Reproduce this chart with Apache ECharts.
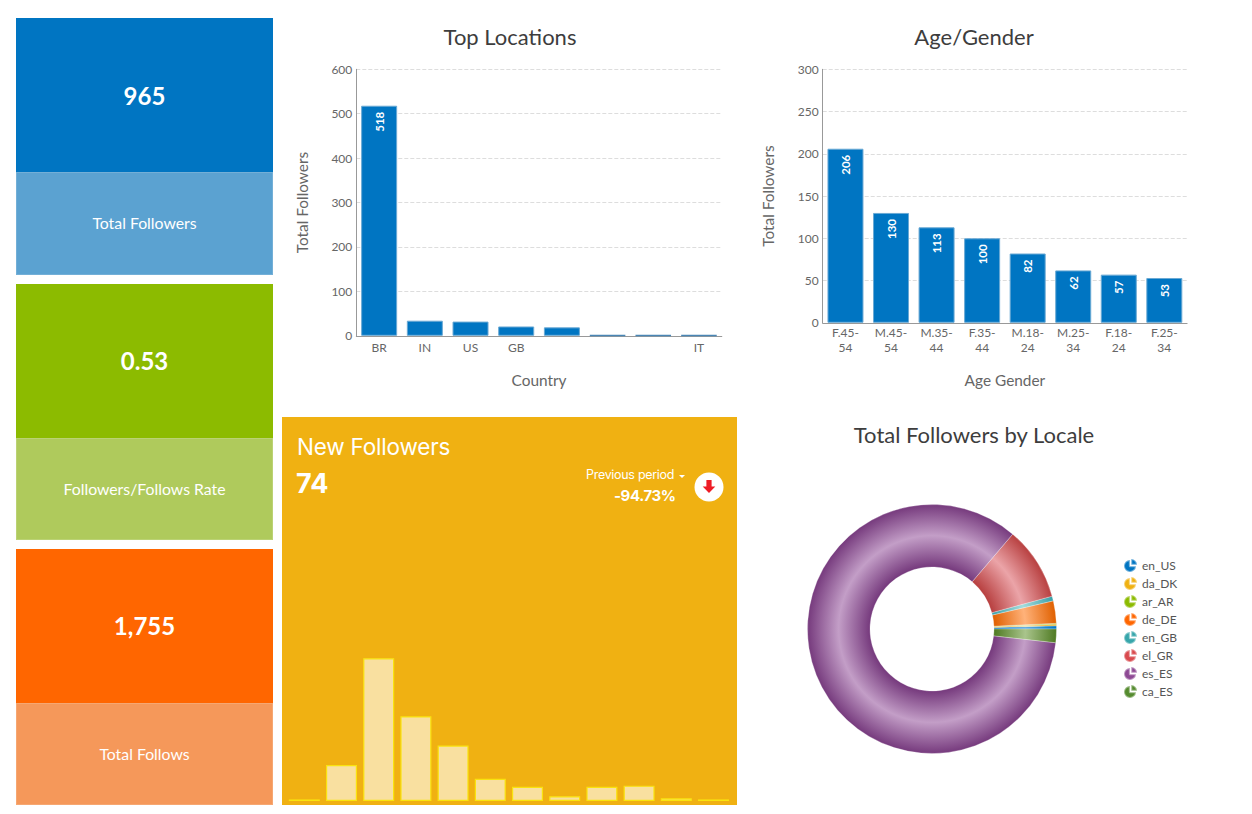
<!DOCTYPE html>
<html><head><meta charset="utf-8">
<script src="https://cdn.jsdelivr.net/npm/echarts@6/dist/echarts.min.js"></script>
<style>
html,body{margin:0;padding:0;background:#fff;width:1252px;height:814px;overflow:hidden;font-family:Lato,sans-serif}
.abs{position:absolute}
#chart{position:absolute;left:0;top:0;width:1252px;height:814px;z-index:2}
.kpi{position:absolute;left:16px;width:257px;color:#fff;text-align:center;box-sizing:border-box}
.kpi .v{height:154px;font-size:24px;font-weight:700}
.kpi .l{font-size:15.8px;box-shadow:inset 0 0 0 1px rgba(255,255,255,.15)}
#panel{position:absolute;left:282px;top:417px;width:455px;height:388px;background:#f0b112;z-index:1}
.t{position:absolute;color:#fff;font-family:Inter,sans-serif;z-index:3;white-space:nowrap}
</style></head><body>
<div id="cards"></div>
<div id="panel"></div>
<div class="t" style="left:297px;top:434px;font-size:22.5px;line-height:26px;letter-spacing:-.2px">New Followers</div>
<div class="t" id="nfv" style="left:296px;top:467px;font-size:27px;line-height:34px;font-weight:700"></div>
<div class="t" id="prevL" style="left:586px;top:467px;font-size:12.5px;line-height:16px;letter-spacing:-.3px"></div>
<div class="abs" style="left:679px;top:475px;width:0;height:0;border-left:3.5px solid transparent;border-right:3.5px solid transparent;border-top:3.5px solid #fff;z-index:3"></div>
<div class="t" id="prevV" style="left:614px;top:487px;font-size:15px;line-height:18px;font-weight:700;letter-spacing:-.4px"></div>
<svg class="abs" style="left:694px;top:472px;z-index:3" width="30" height="30" viewBox="0 0 30 30"><circle cx="15" cy="15" r="14.5" fill="#fff"/><path d="M12.4 8h5.2v6.5h3.7L15 21l-6.3-6.5h3.7z" fill="#ee1c25"/></svg>
<div id="chart"></div>
<script>
var kpiLabels=['Total Followers','Followers/Follows Rate','Total Follows'];
var kpiValues=['965','0.53','1,755'];
var newFollowersValue='74';
var previousLabel='Previous period';
var previousChange='-94.73%';
var locCategories=['BR','IN','US','GB','','','','IT'];
var locValues=[518,34,32,21,19,1,1,1];
var ageCategories=['F.45-54','M.45-54','M.35-44','F.35-44','M.18-24','M.25-34','F.18-24','F.25-34'];
var ageValues=[206,130,113,100,82,62,57,53];
var localeNames=['en_US','da_DK','ar_AR','de_DE','en_GB','el_GR','es_ES','ca_ES'];
var localeValues=[4,2,1,28,6,92,815,17];
var localeEdge=['#0075c2','#e8a70f','#8cbb00','#e06000','#3aa0a8','#b84040','#763a7d','#4f7a22'];
var localeMid=['#66aee0','#f7d77c','#c4dc70','#ffb27a','#a5dcdc','#eba4a8','#c39ec7','#a9c48c'];
var localeLegend=['#0075c2','#f0b112','#8cbb00','#ff6600','#37a6ab','#d94a4e','#8e4a94','#558b2f'];
var newFollowerValues=[0.3,6.8,27,16,10.5,4.2,2.7,0.9,2.7,2.9,0.5,0.3];
var newFollowerDays=['1','2','3','4','5','6','7','8','9','10','11','12'];

var colors=[['#0075c2','#5ba2d1'],['#8cbb00','#afca5c'],['#ff6600','#f5985a']];
var tops=[18,284,549], lineV=[156,154,154], lowH=[103,102,102], lowL=[101,102,102];
document.getElementById('cards').innerHTML=kpiLabels.map(function(l,i){
 return '<div class="kpi" style="top:'+tops[i]+'px"><div class="v" style="background:'+colors[i][0]+';line-height:'+lineV[i]+'px">'+kpiValues[i]+'</div><div class="l" style="background:'+colors[i][1]+';height:'+lowH[i]+'px;line-height:'+lowL[i]+'px">'+l+'</div></div>';
}).join('');
document.getElementById('nfv').textContent=newFollowersValue;
document.getElementById('prevL').textContent=previousLabel;
document.getElementById('prevV').textContent=previousChange;

var F='Lato, sans-serif', TXT='#666666';
var cx=932,cy=629,R=124.5;
function ptitle(text,x,y){return {text:text,left:x,top:y,textAlign:'center',textStyle:{fontFamily:F,fontSize:22,fontWeight:400,color:'#3d3d3d'}};}
function cartesian(i,cats,fmt){return {
 gridIndex:i,type:'category',data:cats,
 axisLine:{lineStyle:{color:'#999',width:1}},axisTick:{show:false},
 axisLabel:{fontFamily:F,fontSize:12,color:TXT,interval:0,margin:i===0?4:2,lineHeight:15,formatter:fmt},
 name:i===0?'Country':'Age Gender',nameLocation:'middle',nameGap:i===0?37:50,nameMoveOverlap:false,
 nameTextStyle:{fontFamily:F,fontSize:15.4,color:TXT}};}
function val(i,max,step,gap){return {
 gridIndex:i,type:'value',min:0,max:max,interval:step,
 axisLine:{show:true,lineStyle:{color:'#999',width:1}},axisTick:{show:false},
 splitLine:{show:true,lineStyle:{color:'#ddd',type:'dashed',width:1}},
 axisLabel:{fontFamily:F,fontSize:12,color:TXT,margin:4},
 name:'Total Followers',nameLocation:'middle',nameGap:gap,nameMoveOverlap:false,
 nameTextStyle:{fontFamily:F,fontSize:15.4,color:TXT}};}
function bars(i,data,showFn){return {
 type:'bar',xAxisIndex:i,yAxisIndex:i,barWidth:36,
 data:data.map(function(v){return v<=1?{value:v,itemStyle:{borderColor:'#4a86b5',borderWidth:1.5}}:v;}),
 itemStyle:{color:'#0075c2',borderColor:'#6aa9d4',borderWidth:1},
 label:{show:true,position:'insideTop',rotate:90,distance:6,color:'#fff',fontFamily:F,fontSize:11.5,fontWeight:700,align:'right',verticalAlign:'middle',
  formatter:function(p){return showFn(p.value)?String(p.value):'';}},z:3};}

var chart=echarts.init(document.getElementById('chart'),null,{renderer:'svg',width:1252,height:814});
chart.setOption({
 animation:false,backgroundColor:'transparent',
 title:[ptitle('Top Locations',505,20),ptitle('Age/Gender',969,20),ptitle('Total Followers by Locale',969,418)],
 grid:[
  {left:356.3,top:69.3,width:365.5,height:266.5},
  {left:822.7,top:69.3,width:364.4,height:253.5},
  {left:285.7,top:600,width:446.4,height:201}
 ],
 xAxis:[cartesian(0,locCategories),
  cartesian(1,ageCategories,function(v){return v.replace('-','-\n');}),
  {gridIndex:2,type:'category',data:newFollowerDays,show:false}],
 yAxis:[val(0,600,100,47),val(1,300,50,47),{gridIndex:2,type:'value',min:0,max:38,show:false}],
 legend:{orient:'vertical',left:1118,top:553,itemWidth:13,itemHeight:13,itemGap:3,itemTextGap:4,itemSymbolKeepAspect:true,
  icon:'path://M45 8A46 46 0 1 0 92 55L45 55ZM56 0L56 44L100 44A44 44 0 0 0 56 0Z',
  textStyle:{fontFamily:F,fontSize:12,lineHeight:14,color:'#555'},
  data:localeNames.map(function(n,i){return {name:n,itemStyle:{color:localeLegend[i]}};})},
 series:[
  bars(0,locValues,function(v){return v>100;}),
  bars(1,ageValues,function(){return true;}),
  {type:'bar',xAxisIndex:2,yAxisIndex:2,data:newFollowerValues,barWidth:31,
   itemStyle:{color:'rgba(255,255,255,0.6)',borderColor:'#f9e30f',borderWidth:1.2}},
  {type:'pie',center:[cx,cy],radius:[62,R],startAngle:0,clockwise:false,label:{show:false},labelLine:{show:false},
   emphasis:{disabled:true},
   data:localeNames.map(function(n,i){return {name:n,value:localeValues[i],
    itemStyle:{borderColor:'rgba(255,255,255,0.4)',borderWidth:0.7,
     color:{type:'radial',x:cx,y:cy,r:R,global:true,colorStops:[
      {offset:0,color:localeEdge[i]},{offset:0.5,color:localeEdge[i]},{offset:0.75,color:localeMid[i]},{offset:1,color:localeEdge[i]}]}}};})}
 ],
 color:localeLegend
});
</script></body></html>
